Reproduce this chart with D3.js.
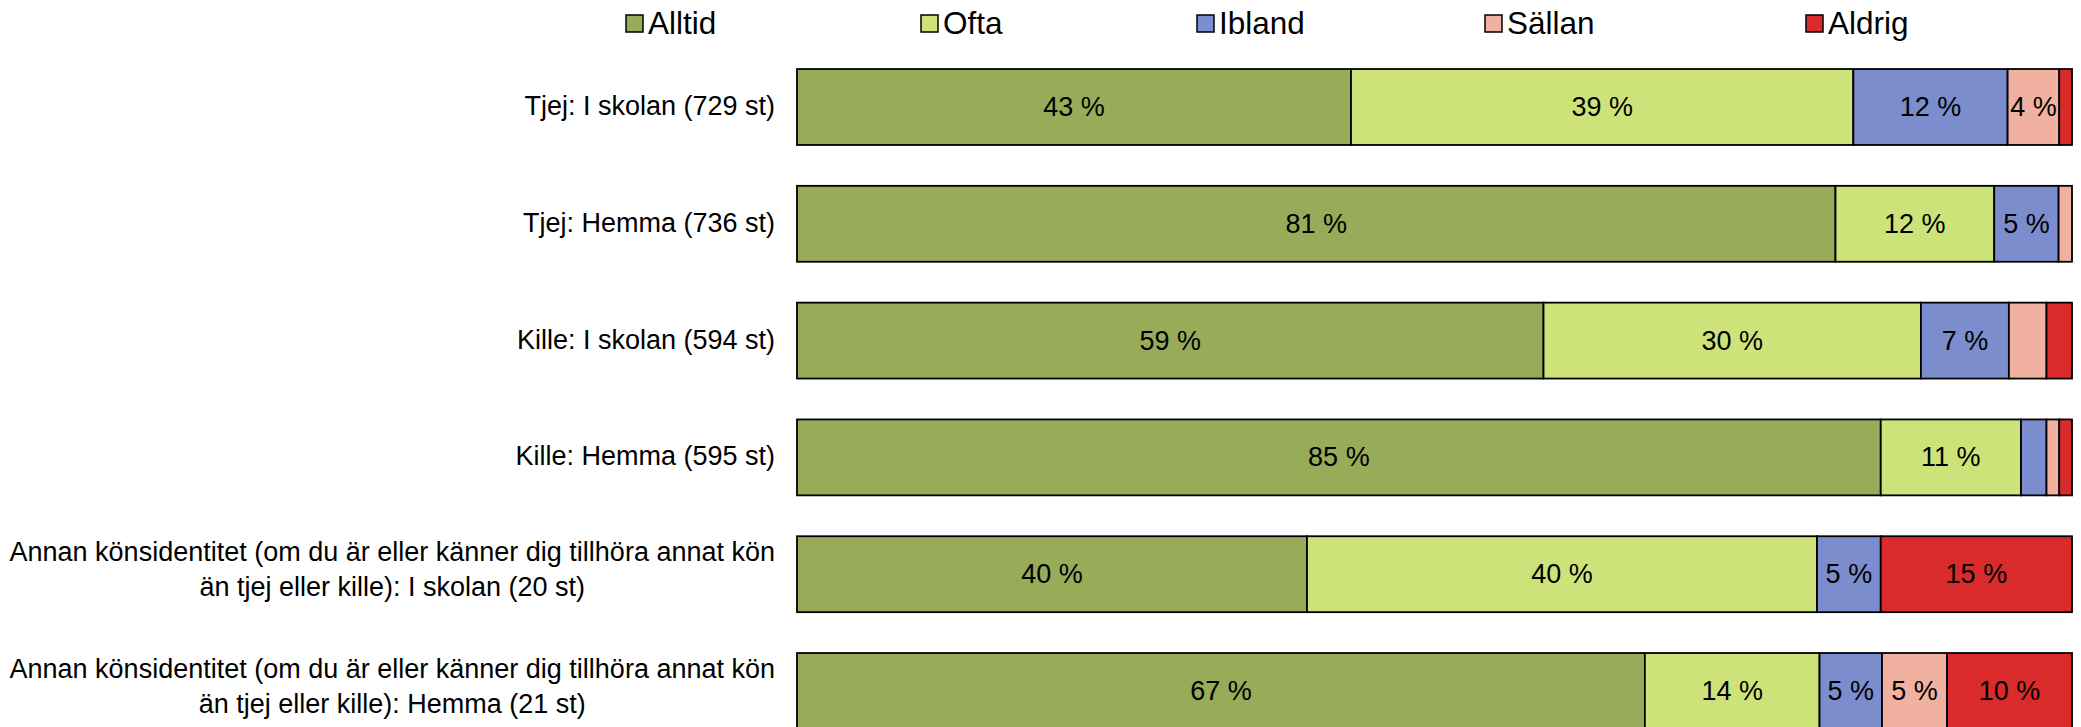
<!DOCTYPE html>
<html>
<head>
<meta charset="utf-8">
<script src="https://cdn.jsdelivr.net/npm/d3@7"></script>
<style>
  html, body { margin: 0; padding: 0; background: #fff; }
  svg { display: block; }
</style>
</head>
<body>
<svg id="chart" width="2081" height="727"></svg>
<script>
// ---- data ----
const categories = [
  "Tjej: I skolan (729 st)",
  "Tjej: Hemma (736 st)",
  "Kille: I skolan (594 st)",
  "Kille: Hemma (595 st)",
  "Annan könsidentitet (om du är eller känner dig tillhöra annat kön\nän tjej eller kille): I skolan (20 st)",
  "Annan könsidentitet (om du är eller känner dig tillhöra annat kön\nän tjej eller kille): Hemma (21 st)"
];
const seriesNames = ["Alltid", "Ofta", "Ibland", "Sällan", "Aldrig"];
const alltid = [43.45, 81.45, 58.55, 85.0, 40, 66.5];
const ofta   = [39.4, 12.45, 29.6, 11.0, 40, 13.7];
const ibland = [12.1, 5.05, 6.9, 2.0, 5, 4.9];
const sallan = [4.05, 1.05, 2.95, 1.0, 0, 5.1];
const aldrig = [1.0, 0, 2.0, 1.0, 15, 9.8];

// ---- styles / layout ----
const colors = ["#98AB58", "#CDE37A", "#7B8DCD", "#F0B1A1", "#D92B2B"];
const legendX = [626, 921, 1197, 1485, 1806];
const FONT = "'Liberation Sans', Arial, sans-serif";

const rows = categories.map((c, i) => ({
  cat: c, Alltid: alltid[i], Ofta: ofta[i], Ibland: ibland[i], "Sällan": sallan[i], Aldrig: aldrig[i]
}));

const svg = d3.select("#chart");

const x = d3.scaleLinear().domain([0, 1]).range([797, 2072]);
const y = d3.scaleBand().domain(categories).range([48.6, 749.4]).paddingInner(0.35).paddingOuter(0.175);

const stack = d3.stack().keys(seriesNames).offset(d3.stackOffsetExpand);
const stacked = stack(rows);

const layers = svg.append("g").selectAll("g")
  .data(stacked).join("g")
  .attr("fill", (d, i) => colors[i]);

layers.selectAll("rect")
  .data(d => d.map(p => ({ p, key: d.key })))
  .join("rect")
  .filter(d => d.p[1] - d.p[0] > 0)
  .attr("x", d => x(d.p[0]))
  .attr("y", d => y(d.p.data.cat))
  .attr("width", d => x(d.p[1]) - x(d.p[0]))
  .attr("height", y.bandwidth())
  .attr("stroke", "#000")
  .attr("stroke-width", 1.8);

// value labels
const labG = svg.append("g").attr("font-family", FONT).attr("font-size", 27).attr("fill", "#000").attr("text-anchor", "middle");
stacked.forEach(layer => {
  layer.forEach(p => {
    const v = p.data[layer.key];
    if (Math.round(v) >= 4) {
      labG.append("text")
        .attr("x", (x(p[0]) + x(p[1])) / 2)
        .attr("y", y(p.data.cat) + y.bandwidth() / 2 + 9)
        .text(Math.round(v) + " %");
    }
  });
});

// category labels
const catG = svg.append("g").attr("font-family", FONT).attr("font-size", 27).attr("fill", "#000");
const labelRight = 775;
categories.forEach(c => {
  const lines = c.split("\n");
  const cy = y(c) + y.bandwidth() / 2;
  const t = catG.append("text").attr("text-anchor", "middle");
  const tsp = lines.map((ln, i) => t.append("tspan")
    .attr("y", lines.length === 1 ? cy + 8 : cy + 4.5 + (i - (lines.length - 1) / 2) * 35)
    .text(ln));
  const maxW = d3.max(tsp, s => s.node().getComputedTextLength());
  tsp.forEach(s => s.attr("x", labelRight - maxW / 2));
});

// legend
const legG = svg.append("g").attr("font-family", FONT).attr("font-size", 31.5);
seriesNames.forEach((s, i) => {
  legG.append("rect").attr("x", legendX[i]).attr("y", 15).attr("width", 17).attr("height", 17)
    .attr("fill", colors[i]).attr("stroke", "#000").attr("stroke-width", 1.5);
  legG.append("text").attr("x", legendX[i] + 22).attr("y", 34).text(s);
});
</script>
</body>
</html>
